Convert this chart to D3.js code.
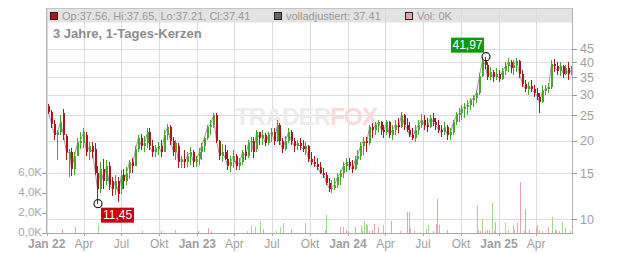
<!DOCTYPE html>
<html><head><meta charset="utf-8">
<script src="https://cdn.jsdelivr.net/npm/d3@7"></script>
<style>body{margin:0;background:#fff}svg{display:block;font-family:"Liberation Sans",Arial,sans-serif}</style>
</head><body><svg id="c" width="632" height="253"></svg>
<script>
// ---- data (weekly candles) ----
const firstWeek = "2022-01-03";
const open  = [27.1,25.7,23.2,21.0,21.5,25.5,20.8,17.0,18.0,15.5,17.5,19.5,19.5,21.0,18.0,19.0,18.5,15.0,13.0,15.5,14.0,16.0,14.0,13.0,14.0,13.0,14.8,14.0,15.0,16.5,16.0,18.5,20.5,19.0,19.5,21.5,19.0,18.0,18.5,19.0,18.0,21.0,22.5,20.0,18.0,19.0,16.5,17.0,16.5,17.5,18.0,16.5,17.0,18.0,19.0,20.5,22.5,23.0,25.0,20.0,17.5,18.0,17.0,16.0,16.5,17.5,16.0,16.5,18.0,17.5,19.5,20.0,18.5,21.5,20.5,21.0,19.5,21.0,21.5,20.0,23.0,20.0,18.5,20.0,21.5,20.0,19.0,19.5,19.0,18.5,19.0,17.0,16.5,16.2,15.8,15.0,14.8,13.8,13.0,13.2,13.5,14.5,15.0,16.0,16.5,16.0,15.5,17.0,17.5,19.0,20.0,19.5,22.5,22.0,23.0,23.5,22.0,21.5,23.5,21.0,22.0,23.0,22.5,25.0,23.0,22.0,21.0,20.5,22.0,23.0,24.0,23.0,22.5,24.5,23.5,23.0,22.0,21.5,22.5,21.0,21.5,23.5,25.0,25.5,26.5,27.0,27.5,28.5,29.0,30.5,35.5,40.5,39.0,35.0,36.5,35.0,36.0,34.5,37.0,38.5,40.0,38.0,39.0,40.5,36.0,33.0,31.5,32.5,31.5,30.5,29.5,28.0,31.0,31.5,32.0,39.5,38.5,37.0,38.5,36.0,38.0,36.0];
const high  = [27.6,26.2,24.0,22.0,25.0,26.5,21.2,18.5,18.8,18.0,20.5,21.5,22.3,21.5,19.8,19.8,19.5,16.0,16.5,17.0,16.8,16.5,14.5,14.8,14.5,15.4,15.5,15.8,16.8,17.2,19.0,21.0,21.2,20.8,22.3,22.3,20.1,19.2,19.8,20.1,22.0,23.2,23.0,20.6,20.1,19.5,17.5,18.4,18.1,18.9,18.4,17.5,18.7,19.6,20.6,23.0,24.0,25.5,25.6,20.1,19.4,19.2,18.4,17.5,18.4,17.8,17.2,18.4,19.2,20.1,20.6,20.6,22.0,21.6,22.0,21.3,21.6,22.3,22.3,24.0,23.3,20.5,20.8,22.3,22.0,20.5,20.1,20.5,20.1,19.8,19.2,18.1,17.5,17.2,16.5,15.7,15.1,14.4,14.1,14.4,15.0,15.4,16.5,17.2,17.2,16.8,17.5,18.4,19.8,20.6,20.6,23.0,23.4,23.6,24.0,23.8,23.0,24.0,23.8,23.0,24.0,24.4,25.7,25.2,24.4,23.6,22.3,23.0,24.0,25.3,25.1,24.4,25.1,25.5,24.4,24.0,23.0,23.6,23.0,22.3,24.0,25.7,26.7,27.4,27.9,28.6,29.1,29.9,31.2,36.3,41.5,41.97,40.0,38.2,37.3,37.9,37.3,37.9,40.0,41.5,40.7,40.7,41.5,40.8,37.3,34.1,33.6,34.1,32.7,31.8,30.5,32.7,32.7,33.2,40.7,41.0,40.0,40.0,39.0,39.0,40.0,38.5];
const low   = [25.3,22.3,20.1,16.8,21.0,20.1,16.8,14.5,14.6,14.8,17.5,18.5,18.8,17.5,16.8,17.2,14.7,11.45,12.6,13.0,13.5,12.9,12.2,12.4,11.6,12.5,13.0,13.5,14.2,15.0,16.0,18.0,18.4,18.0,18.7,18.4,17.3,17.3,17.6,17.3,18.0,20.1,19.2,17.4,16.8,15.7,15.7,15.7,15.9,16.1,15.9,15.9,16.1,16.8,18.1,20.1,21.0,22.3,19.5,16.8,16.5,16.8,15.4,15.1,15.7,15.4,15.4,16.1,16.8,17.2,18.1,17.2,18.0,19.2,19.2,19.0,19.2,19.8,19.2,19.8,19.2,17.9,18.2,19.6,19.2,18.1,18.4,18.4,18.1,17.6,16.5,16.1,15.9,15.4,14.9,14.4,13.5,12.7,12.6,12.9,13.1,13.5,14.4,15.1,15.4,15.0,15.4,16.1,16.8,17.6,18.1,19.3,20.5,21.0,21.6,21.0,20.5,21.0,20.5,20.1,21.0,21.4,22.3,22.0,21.6,20.6,20.1,19.8,21.0,22.3,22.0,21.6,22.3,22.7,22.0,21.4,20.6,21.0,20.1,20.1,21.0,23.0,23.6,24.0,24.4,25.1,26.2,26.9,27.9,29.9,35.0,37.5,34.1,34.1,33.6,34.1,33.6,34.1,35.6,36.6,36.3,35.6,36.6,34.7,32.1,30.7,30.0,30.7,29.3,28.6,25.5,27.8,29.9,30.5,31.5,36.6,35.6,35.3,34.7,35.6,34.1,35.6];
const close = [25.7,23.2,21.0,21.5,23.5,21.0,18.0,18.0,15.5,17.5,19.5,20.0,21.5,18.0,19.0,18.0,15.0,13.0,15.5,14.0,16.0,13.5,13.0,14.0,12.5,14.8,14.0,15.0,16.5,16.0,18.5,20.5,19.0,19.5,21.5,19.0,18.0,18.5,19.0,18.0,21.0,22.5,20.0,18.0,19.5,16.5,17.0,16.5,17.5,18.0,16.5,17.0,18.0,19.0,20.5,22.5,23.0,25.0,20.0,17.5,18.0,17.0,16.0,16.5,17.5,16.0,16.5,18.0,17.5,19.5,20.0,18.0,21.5,20.5,21.0,19.5,21.0,21.5,20.0,23.0,20.0,18.5,20.0,21.5,20.0,19.0,19.5,19.0,18.5,19.0,17.0,16.5,16.2,15.8,15.0,14.8,13.8,13.0,13.2,13.5,14.5,15.0,16.0,16.5,16.0,15.5,17.0,17.5,19.0,20.0,19.5,22.5,22.0,23.0,23.5,22.0,21.5,23.5,21.0,22.0,23.0,22.5,25.0,23.0,22.0,21.0,20.5,22.0,23.0,24.0,23.0,22.5,24.5,23.5,23.0,22.0,21.5,22.5,21.0,21.5,23.5,25.0,25.5,26.5,27.0,27.5,28.5,29.0,30.5,35.5,40.5,39.0,35.0,36.5,35.0,36.0,34.5,37.0,38.5,40.0,38.0,39.0,40.5,36.0,33.0,31.5,32.5,31.5,30.5,29.5,28.0,31.0,31.5,32.0,39.5,38.5,37.0,38.5,36.0,38.0,36.0,37.41];

const volDates = ["2022-02-08","2022-03-11","2022-05-06","2022-08-19","2022-10-05","2022-11-07","2023-01-02","2023-01-26","2023-02-02","2023-05-01","2023-05-12","2023-05-22","2023-06-01","2023-06-09","2023-07-11","2023-07-21","2023-07-28","2023-08-16","2023-09-18","2023-09-20","2023-11-06","2023-11-08","2023-12-12","2023-12-21","2023-12-28","2024-01-02","2024-01-17","2024-02-01","2024-02-05","2024-02-08","2024-02-13","2024-02-16","2024-02-22","2024-02-28","2024-03-05","2024-03-13","2024-03-25","2024-04-15","2024-05-06","2024-05-22","2024-05-23","2024-05-27","2024-05-31","2024-06-10","2024-07-09","2024-07-12","2024-07-26","2024-08-02","2024-08-05","2024-08-09","2024-08-29","2024-11-08","2024-11-11","2024-11-15","2024-11-21","2024-11-22","2024-11-27","2024-12-02","2024-12-09","2024-12-16","2024-12-19","2024-12-23","2025-01-15","2025-01-24","2025-02-04","2025-02-06","2025-02-13","2025-02-20","2025-02-21","2025-03-03","2025-03-06","2025-03-14","2025-03-31","2025-04-04","2025-04-08","2025-04-16","2025-04-30","2025-05-09","2025-05-16","2025-05-19","2025-05-27","2025-06-03","2025-06-10","2025-06-23","2025-06-26"];
const volK = [0.4,0.6,0.8,0.2,0.2,0.3,0.2,0.5,0.2,0.2,0.7,0.6,1.2,0.4,0.2,0.6,1.0,0.4,0.6,1.0,0.3,1.8,0.6,0.6,0.3,0.2,0.6,0.8,0.2,1.2,0.9,0.8,0.2,0.3,0.9,0.6,0.8,1.2,0.2,0.3,2.1,2.1,0.4,0.2,0.4,0.8,0.2,0.9,3.4,0.8,0.3,2.8,0.3,0.2,1.4,0.3,0.2,0.3,0.3,3.0,0.2,1.1,1.0,0.3,0.8,0.3,1.0,5.1,0.2,0.2,2.4,0.3,0.5,0.8,0.3,0.2,0.6,1.6,0.3,0.3,0.2,1.1,0.5,0.2,0.2];
const volUp = [0,1,1,1,0,1,0,0,1,1,1,1,1,0,1,1,1,0,0,1,1,1,0,1,0,0,1,1,1,1,1,1,1,0,0,0,1,0,0,1,0,0,0,0,1,1,1,0,0,0,0,1,1,0,1,0,0,0,0,1,0,0,1,1,1,0,0,0,0,0,0,0,0,1,0,1,0,1,1,0,0,1,0,1,1];

const priceTicks = [10,15,20,25,30,35,40,45];
const volTicks = [0,2,4,6];
const volTickLabels = ["0,0K","2,0K","4,0K","6,0K"];
const xTickDates = ["2022-01-01","2022-04-01","2022-07-01","2022-10-01","2023-01-01","2023-04-01","2023-07-01","2023-10-01","2024-01-01","2024-04-01","2024-07-01","2024-10-01","2025-01-01","2025-04-01"];
const xTickLabels = ["Jan 22","Apr","Jul","Okt","Jan 23","Apr","Jul","Okt","Jan 24","Apr","Jul","Okt","Jan 25","Apr"];
const legendItems = [
  {text:"Op:37.56, Hi:37.65, Lo:37.21, Cl:37.41", color:"#b5121b"},
  {text:"volladjustiert: 37.41", color:"#666666"},
  {text:"Vol: 0K", color:"#f0a0a8"}
];
const titleText = "3 Jahre, 1-Tages-Kerzen";

// ---- drawing ----
const parse = d3.timeParse("%Y-%m-%d");
const svg = d3.select("#c");
const L = 46, R = 572, T = 8, B = 233;
const x = d3.scaleTime().domain([new Date(2022,0,1), new Date(2025,5,27)]).range([46.7, R]);
const y = d3.scaleLog().domain([10,40]).range([219,62.1]);
const yv = d3.scaleLinear().domain([0,6]).range([B,173]);
const RED = "#b5121b", GREEN = "#45a82b";

svg.append("rect").attr("x",L).attr("y",T).attr("width",R-L).attr("height",14.5).attr("fill","#e3e3e3");

// grid
const tickDates = xTickDates.map(parse);
svg.append("g").selectAll("line").data(tickDates).join("line")
  .attr("x1",d=>Math.round(x(d))+0.5).attr("x2",d=>Math.round(x(d))+0.5)
  .attr("y1",T).attr("y2",B).attr("stroke","#dcdcdc").attr("stroke-width",1);
svg.append("g").selectAll("line").data(priceTicks).join("line")
  .attr("x1",L).attr("x2",R).attr("y1",d=>Math.round(y(d))+0.5).attr("y2",d=>Math.round(y(d))+0.5)
  .attr("stroke","#dcdcdc");

// watermark
const wm = svg.append("text").attr("x",235).attr("y",125).attr("font-size",24).attr("font-weight","bold")
  .attr("letter-spacing",-0.8);
wm.append("tspan").text("TRADER").attr("fill","#ececec");
wm.append("tspan").text("FOX").attr("fill","#fadada");

// legend header
const lg = svg.append("g");
[50, 274, 405].forEach((px,i)=>{
  lg.append("rect").attr("x",px+0.5).attr("y",12.5).attr("width",7).attr("height",7)
    .attr("fill",legendItems[i].color).attr("stroke","#222");
  lg.append("text").attr("x",px+12).attr("y",19.5).attr("font-size",11).attr("fill","#999")
    .text(legendItems[i].text);
});
svg.append("text").attr("x",53).attr("y",38).attr("font-size",13).attr("font-weight","bold")
  .attr("fill","#8c8c8c").text(titleText);

// volume bars
const vols = volDates.map((d,i)=>({d:parse(d),v:volK[i],up:volUp[i]}));
svg.append("g").selectAll("rect").data(vols).join("rect")
  .attr("x",d=>Math.round(x(d.d))).attr("width",1)
  .attr("y",d=>yv(d.v)).attr("height",d=>B-yv(d.v))
  .attr("fill",d=>d.up?"#9fd78d":"#f2a0a8");

// candles
const start = parse(firstWeek);
const candles = close.map((c,i)=>({d:d3.timeDay.offset(start,7*i+2),o:open[i],h:high[i],l:low[i],c:c}));
// adjusted close line (grey) behind candles
svg.append("path").datum(candles)
  .attr("d",d3.line().x(d=>Math.round(x(d.d))+0.5).y(d=>y(d.c)))
  .attr("fill","none").attr("stroke","#9a9a9a").attr("stroke-width",1);
const cg = svg.append("g").attr("shape-rendering","crispEdges");
cg.selectAll("line").data(candles).join("line")
  .attr("x1",d=>Math.round(x(d.d))+0.5).attr("x2",d=>Math.round(x(d.d))+0.5)
  .attr("y1",d=>y(d.h)).attr("y2",d=>y(d.l))
  .attr("stroke",d=>d.c>=d.o?GREEN:RED).attr("stroke-width",1);
cg.selectAll("rect").data(candles).join("rect")
  .attr("x",d=>Math.round(x(d.d))-0.5).attr("width",2)
  .attr("y",d=>y(Math.max(d.o,d.c))).attr("height",d=>Math.max(1,Math.abs(y(d.o)-y(d.c))))
  .attr("fill",d=>d.c>=d.o?GREEN:RED);

// frame
svg.append("line").attr("x1",L).attr("x2",R).attr("y1",T+0.5).attr("y2",T+0.5).attr("stroke","#c4c4c4");
svg.append("line").attr("x1",L+0.5).attr("x2",L+0.5).attr("y1",T).attr("y2",B).attr("stroke","#b4b4b4");
svg.append("line").attr("x1",R+0.5).attr("x2",R+0.5).attr("y1",T).attr("y2",B).attr("stroke","#b4b4b4");
svg.append("line").attr("x1",L).attr("x2",R+1).attr("y1",B+0.5).attr("y2",B+0.5).attr("stroke","#aaaaaa");

// right price axis
const ra = svg.append("g");
ra.selectAll("line").data(priceTicks).join("line")
  .attr("x1",R).attr("x2",R+5).attr("y1",d=>Math.round(y(d))+0.5).attr("y2",d=>Math.round(y(d))+0.5).attr("stroke","#999");
ra.selectAll("text").data(priceTicks).join("text")
  .attr("x",R+8).attr("y",d=>y(d)).attr("dy","0.36em").attr("font-size",12.5).attr("fill","#a0a0a0").text(d=>d);

// left volume axis
const la = svg.append("g");
la.selectAll("line").data(volTicks).join("line")
  .attr("x1",L-4).attr("x2",L).attr("y1",d=>Math.round(yv(d))+0.5).attr("y2",d=>Math.round(yv(d))+0.5).attr("stroke","#999");
la.selectAll("text").data(volTicks).join("text")
  .attr("x",L-4).attr("y",d=>yv(d)-0.8).attr("dy","0.33em").attr("text-anchor","end")
  .attr("font-size",11.5).attr("fill","#a8a8a8").text((d,i)=>volTickLabels[i]);

// bottom axis
const ba = svg.append("g");
ba.selectAll("line").data(tickDates).join("line")
  .attr("x1",d=>Math.round(x(d))+0.5).attr("x2",d=>Math.round(x(d))+0.5).attr("y1",B).attr("y2",B+3).attr("stroke","#aaa");
ba.selectAll("text").data(tickDates).join("text")
  .attr("x",d=>x(d)).attr("y",247.5).attr("text-anchor","middle").attr("font-size",12)
  .attr("font-weight",(d,i)=>xTickLabels[i].startsWith("Jan")?"bold":"normal")
  .attr("fill","#a0a0a0").text((d,i)=>xTickLabels[i]);

// high / low markers
const hiC = candles.reduce((a,b)=>b.h>a.h?b:a);
const loC = candles.reduce((a,b)=>b.l<a.l?b:a);
const fmt = v=>d3.format(".2f")(v).replace(".",",");
function marker(c, val, color, above){
  const cx = Math.round(x(c.d))+1, cy = y(val);
  svg.append("circle").attr("cx",cx).attr("cy",cy).attr("r",4).attr("fill","none").attr("stroke","#222").attr("stroke-width",1.2);
  const w = 33, h = 15;
  const bx = above ? cx-2-w : cx+3, by = above ? cy-4-h : cy+4;
  svg.append("rect").attr("x",bx).attr("y",by).attr("width",w).attr("height",h).attr("fill",color);
  svg.append("text").attr("x",bx+w/2).attr("y",by+h/2).attr("dy","0.36em").attr("text-anchor","middle")
    .attr("font-size",12).attr("fill","#fff").text(fmt(val));
}
marker(hiC, hiC.h, "#0c9a0c", true);
marker(loC, loC.l, "#c8000f", false);
</script></body></html>
